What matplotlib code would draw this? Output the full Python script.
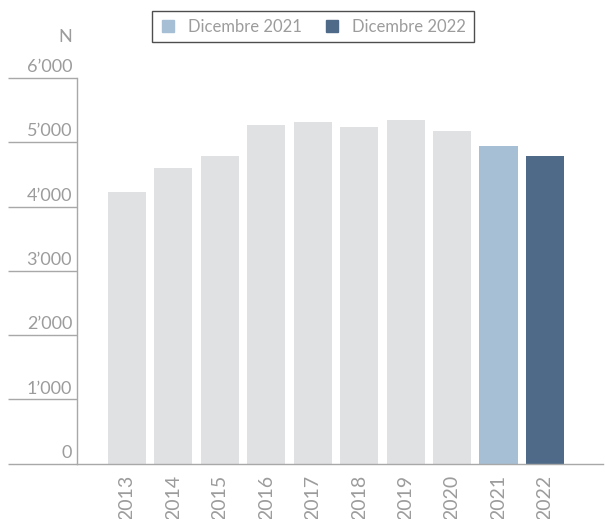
"""Numero per anno — bar chart, Dicembre 2021 vs Dicembre 2022."""

import matplotlib.pyplot as plt
from matplotlib.lines import Line2D
from matplotlib.ticker import FixedLocator

# ── Data ──────────────────────────────────────────────────────────────────────

years = ["2013", "2014", "2015", "2016", "2017", "2018", "2019", "2020", "2021", "2022"]
values = [4226, 4599, 4785, 5267, 5314, 5236, 5345, 5174, 4941, 4785]
y_ticks = [0, 1000, 2000, 3000, 4000, 5000, 6000]
y_tick_labels = ["0", "1’000", "2’000", "3’000", "4’000", "5’000", "6’000"]
legend_labels = ["Dicembre 2021", "Dicembre 2022"]

# ── Style ─────────────────────────────────────────────────────────────────────

GREY_BAR = "#E0E1E3"
LIGHT_BLUE = "#A6BFD4"
DARK_BLUE = "#4F6A88"
AXIS_GREY = "#A8A8A8"
TEXT_GREY = "#9C9C9C"

plt.rcParams["font.family"] = ["Lato", "DejaVu Sans"]

colors = [GREY_BAR] * (len(years) - 2) + [LIGHT_BLUE, DARK_BLUE]

W, H = 605, 519
fig = plt.figure(figsize=(W / 100, H / 100), dpi=100)
ax = fig.add_axes([77 / W, (H - 463.7) / H, (603 - 77) / W, (463.7 - 77.9) / H])

x = list(range(len(years)))
ax.bar(x, values, width=0.82, color=colors, zorder=2)

ax.set_xlim(-1.077, 10.25)
ax.set_ylim(0, 6000)

for side in ("top", "right"):
    ax.spines[side].set_visible(False)
for side in ("left", "bottom"):
    ax.spines[side].set_color(AXIS_GREY)
    ax.spines[side].set_linewidth(1.0)

# y ticks: long lines to the left, label sits on top of each line
ax.yaxis.set_major_locator(FixedLocator(y_ticks))
ax.tick_params(axis="y", direction="out", length=69 * 0.72, width=1.0,
               color=AXIS_GREY, labelleft=False)
for v, lab in zip(y_ticks, y_tick_labels):
    ax.annotate(lab, xy=(0, v), xycoords=("axes fraction", "data"),
                xytext=(-3.5, 2), textcoords="offset points",
                ha="right", va="bottom", fontsize=13, color=TEXT_GREY)

ax.annotate("N", xy=(0, 6000), xycoords=("axes fraction", "data"),
            xytext=(-3.5, 24), textcoords="offset points",
            ha="right", va="bottom", fontsize=13, color=TEXT_GREY)

ax.set_xticks(x)
ax.set_xticklabels(years, rotation=90, fontsize=14, color=TEXT_GREY,
                   ha="center", va="top")
ax.tick_params(axis="x", length=0, pad=8)

handles = [
    Line2D([0], [0], marker="s", linestyle="none", markersize=9,
           markerfacecolor=LIGHT_BLUE, markeredgecolor=LIGHT_BLUE),
    Line2D([0], [0], marker="s", linestyle="none", markersize=9,
           markerfacecolor=DARK_BLUE, markeredgecolor=DARK_BLUE),
]
leg = fig.legend(handles, legend_labels, loc="center", ncol=2,
                 bbox_to_anchor=(313 / W, 1 - 26.5 / H), frameon=True,
                 fancybox=False, edgecolor="#222222", fontsize=12,
                 handletextpad=0.7, columnspacing=1.3, borderpad=0.45,
                 handlelength=1.0, labelcolor=TEXT_GREY)
leg.get_frame().set_linewidth(1.0)

fig.savefig("out.png", dpi=100)
